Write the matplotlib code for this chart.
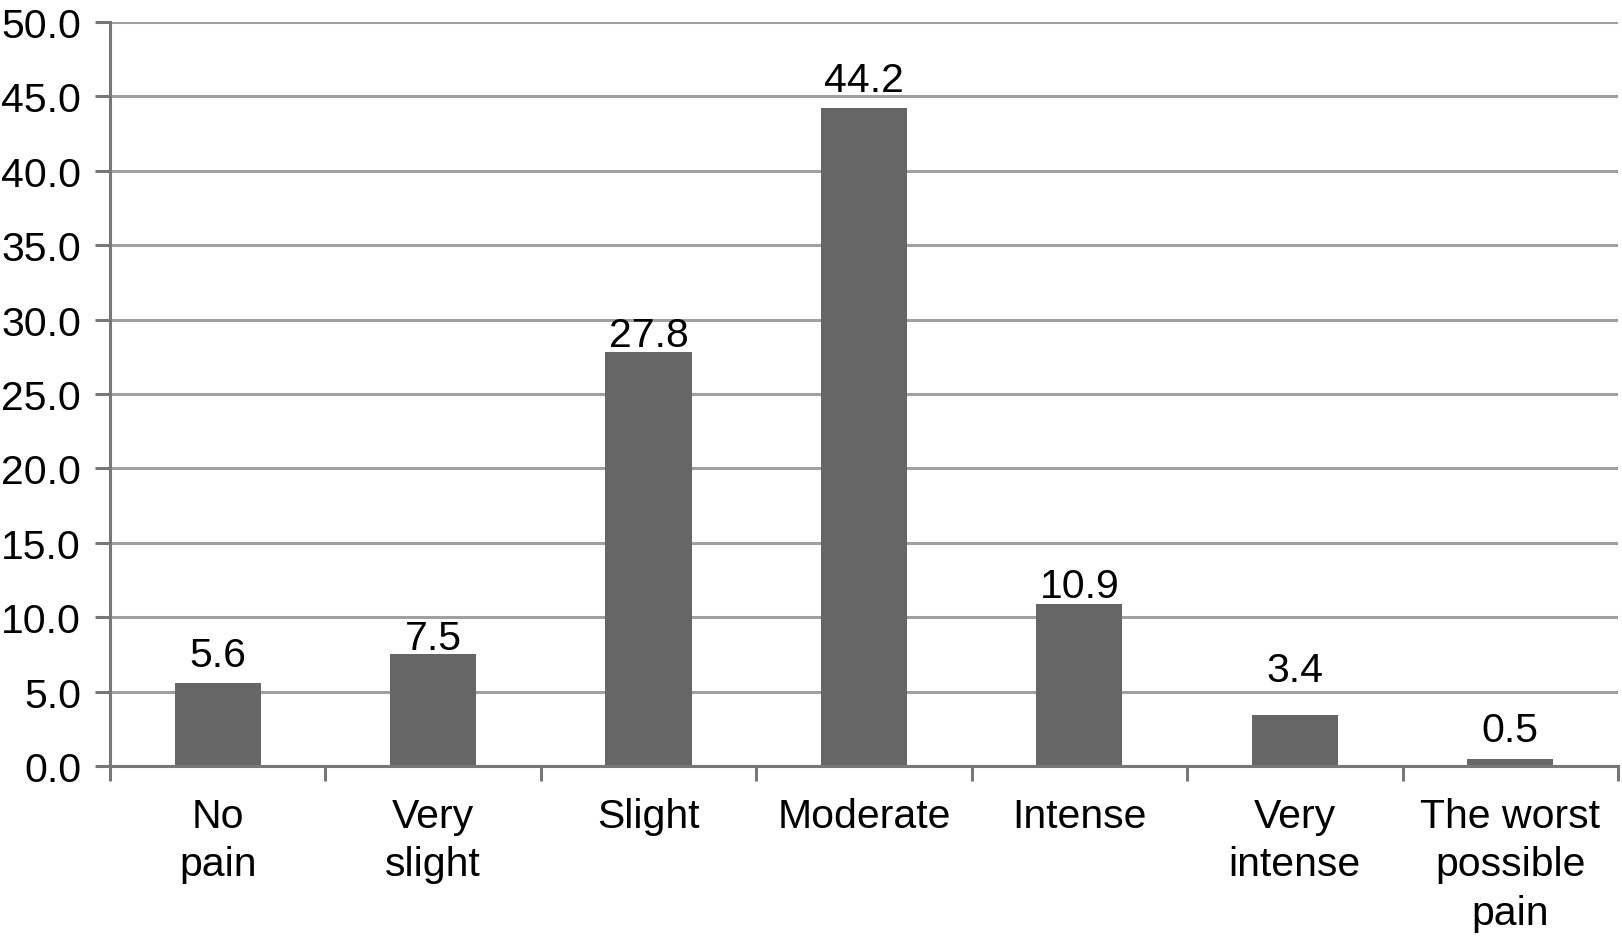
import matplotlib.pyplot as plt

# Data
categories = ["No\npain", "Very\nslight", "Slight", "Moderate", "Intense",
              "Very\nintense", "The worst\npossible\npain"]
values = [5.6, 7.5, 27.8, 44.2, 10.9, 3.4, 0.5]

# label offsets above bar tops (pixels), nudged to dodge gridlines
label_pad = [17, 5, 6, 17, 7, 34, 18]

plt.rcParams['font.family'] = ['Liberation Sans', 'DejaVu Sans']
fs = 29.5

fig = plt.figure(figsize=(16.22, 9.37), dpi=100)
ax = fig.add_axes([0.0678, 0.1814, 0.9297, 0.7941])

x = list(range(len(categories)))
ax.bar(x, values, width=0.4, color="#666666", zorder=3)

for xi, v, p in zip(x, values, label_pad):
    ax.annotate(f"{v:.1f}", (xi, v), xytext=(0, p), textcoords="offset pixels",
                ha="center", va="baseline", fontsize=fs, color="black")

ax.set_xlim(-0.5, len(categories) - 0.5)
ax.set_ylim(0, 50)
ax.set_yticks([i * 5 for i in range(11)])
ax.set_yticklabels([f"{i * 5:.1f}" for i in range(11)])

# boundaries get the tick marks, centres get the labels
ax.set_xticks([i - 0.5 for i in range(len(categories) + 1)])
ax.set_xticklabels([])
ax.set_xticks(x, minor=True)
ax.set_xticklabels(categories, minor=True, fontsize=fs, linespacing=1.36)
ax.tick_params(axis="x", which="minor", length=0, pad=22)
ax.tick_params(axis="x", which="major", length=10.8, width=2.2, color="#777777")
ax.tick_params(axis="y", length=10.8, width=2.2, color="#777777", labelsize=fs, pad=10)

ax.yaxis.grid(True, color="#a0a0a0", linewidth=2.2, zorder=0)
ax.set_axisbelow(True)

for s in ["top", "right"]:
    ax.spines[s].set_visible(False)
for s in ["left", "bottom"]:
    ax.spines[s].set_color("#777777")
    ax.spines[s].set_linewidth(2.2)
    ax.spines[s].set_zorder(4)

fig.savefig("out.png", dpi=100)
